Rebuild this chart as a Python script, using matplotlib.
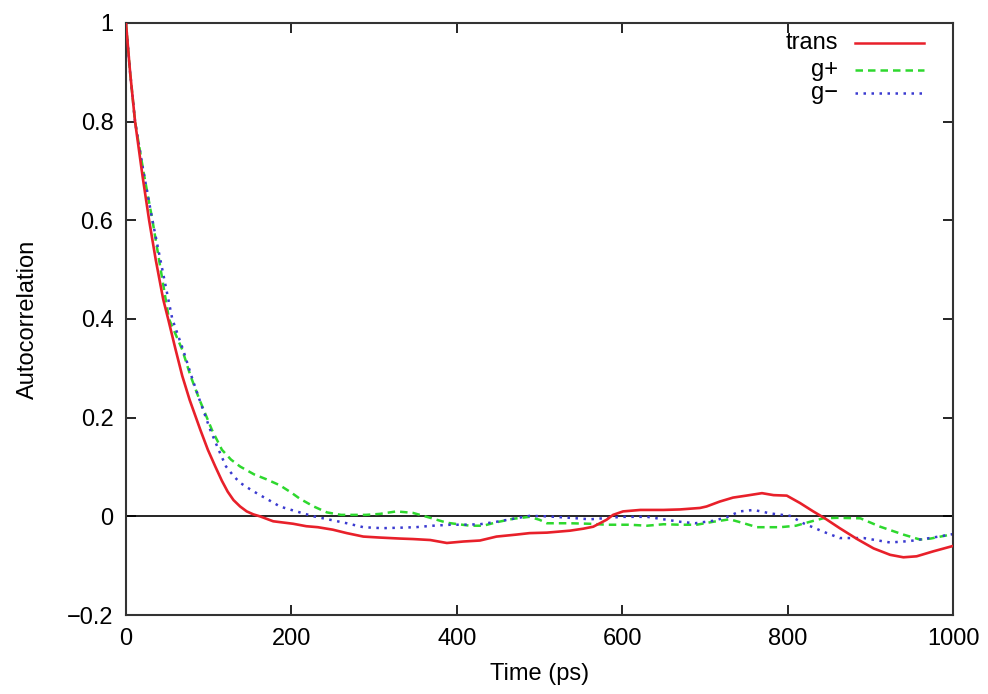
import matplotlib
matplotlib.use("Agg")
import matplotlib.pyplot as plt

plt.rcParams['font.family'] = ['Liberation Sans', 'DejaVu Sans']

# trans
t_trans = [0, 5, 11, 20, 28, 36, 45, 51, 60, 68, 77, 90, 99, 108, 116, 123, 130, 138, 146, 154,
           162, 178, 202, 218, 232, 250, 267, 287, 307, 331, 347, 368, 388, 408, 428, 448,
           472, 488, 509, 537, 553, 565, 581, 589, 601, 622, 650, 670, 694, 702, 718, 734,
           750, 769, 783, 799, 815, 831, 845, 863, 884, 904, 924, 940, 956, 976, 1000]
v_trans = [1.0, 0.9, 0.80, 0.69, 0.60, 0.52, 0.44, 0.40, 0.338, 0.285, 0.236, 0.175, 0.135,
           0.101, 0.072, 0.05, 0.033, 0.02, 0.01, 0.004, 0.0, -0.01, -0.015, -0.02, -0.022,
           -0.027, -0.034, -0.041, -0.043, -0.045, -0.046, -0.048, -0.054, -0.051, -0.049,
           -0.041, -0.037, -0.034, -0.033, -0.029, -0.025, -0.021, -0.007, 0.003, 0.01,
           0.013, 0.013, 0.014, 0.017, 0.02, 0.03, 0.038, 0.042, 0.047, 0.043, 0.042, 0.027,
           0.01, -0.004, -0.024, -0.046, -0.065, -0.078, -0.083, -0.081, -0.071, -0.06]

# g+
t_gp = [0, 5, 11, 21, 32, 42, 52, 68, 78, 89, 104, 116, 127, 138, 155, 170, 186, 200, 210,
        227, 243, 260, 290, 307, 327, 347, 368, 388, 416, 432, 448, 468, 488, 500, 509, 537,
        560, 581, 609, 630, 650, 670, 690, 710, 730, 745, 763, 791, 810, 827, 843, 860, 888,
        912, 940, 960, 973, 1000]
v_gp = [1.0, 0.9, 0.80, 0.70, 0.60, 0.50, 0.40, 0.338, 0.285, 0.236, 0.175, 0.135, 0.115,
        0.101, 0.085, 0.075, 0.063, 0.048, 0.036, 0.02, 0.008, 0.003, 0.003, 0.005, 0.01,
        0.007, -0.003, -0.013, -0.019, -0.019, -0.012, -0.005, -0.001, -0.007, -0.014,
        -0.014, -0.015, -0.017, -0.017, -0.019, -0.016, -0.017, -0.017, -0.011, -0.006,
        -0.013, -0.022, -0.022, -0.019, -0.011, -0.004, -0.003, -0.004, -0.021, -0.037,
        -0.047, -0.045, -0.036]

# g-
t_gm = [0, 5, 11, 21, 32, 44, 56, 69, 79, 89, 102, 112, 121, 130, 138, 150, 160, 178, 186,
        206, 227, 247, 267, 287, 310, 331, 350, 371, 392, 408, 428, 448, 468, 488, 509, 537,
        561, 600, 630, 650, 670, 688, 710, 726, 742, 759, 779, 803, 819, 843, 863, 892, 924,
        948, 972, 1000]
v_gm = [1.0, 0.9, 0.80, 0.70, 0.60, 0.50, 0.40, 0.338, 0.285, 0.236, 0.175, 0.135, 0.101,
        0.082, 0.068, 0.055, 0.045, 0.028, 0.02, 0.01, 0.0, -0.007, -0.014, -0.022, -0.024,
        -0.023, -0.022, -0.019, -0.017, -0.017, -0.016, -0.011, -0.005, 0.001, 0.0, -0.003,
        -0.006, -0.001, -0.001, -0.006, -0.011, -0.014, -0.009, -0.002, 0.01, 0.013, 0.006,
        0.001, -0.014, -0.031, -0.044, -0.044, -0.053, -0.05, -0.044, -0.036]

xticks = [0, 200, 400, 600, 800, 1000]
yticks = [-0.2, 0, 0.2, 0.4, 0.6, 0.8, 1]
ytick_labels = ["\u22120.2", "0", "0.2", "0.4", "0.6", "0.8", "1"]

fig = plt.figure(figsize=(9.88, 6.94), dpi=100)
ax = fig.add_axes([0.1275, 0.1138, 0.8371, 0.8531])

c_trans = "#e8202a"
c_gp = "#2ed82e"
c_gm = "#3a3ad0"

ax.axhline(0, color="black", lw=1.2, zorder=1)
ax.plot(t_trans, v_trans, color=c_trans, lw=1.9, zorder=3)
ax.plot(t_gp, v_gp, color=c_gp, lw=1.8, linestyle=(0, (3, 2)), zorder=2)
ax.plot(t_gm, v_gm, color=c_gm, lw=1.8, linestyle=(0, (1, 2.2)), zorder=2)

ax.set_xlim(0, 1000)
ax.set_ylim(-0.2, 1)
ax.set_xticks(xticks)
ax.set_xticklabels([str(x) for x in xticks])
ax.set_yticks(yticks)
ax.set_yticklabels(ytick_labels)
ax.tick_params(direction="in", length=7, width=1.2, top=True, right=True,
               labelsize=17, pad=9)
for s in ax.spines.values():
    s.set_linewidth(1.5)
    s.set_color("#333333")

ax.set_xlabel("Time (ps)", fontsize=17, labelpad=10)
ax.set_ylabel("Autocorrelation", fontsize=17, labelpad=20)

# gnuplot style key: right aligned text, sample line after it
key = [("trans", c_trans, "-"), ("g+", c_gp, (0, (3, 2))), ("g\u2212", c_gm, (0, (1, 2.2)))]
ys = [0.966, 0.921, 0.882]
for (lab, col, ls), y in zip(key, ys):
    ax.text(0.861, y, lab, transform=ax.transAxes, ha="right", va="center", fontsize=17)
    ax.plot([0.881, 0.965], [y, y], transform=ax.transAxes, color=col, lw=1.8, linestyle=ls)

fig.savefig("out.png", dpi=100)
